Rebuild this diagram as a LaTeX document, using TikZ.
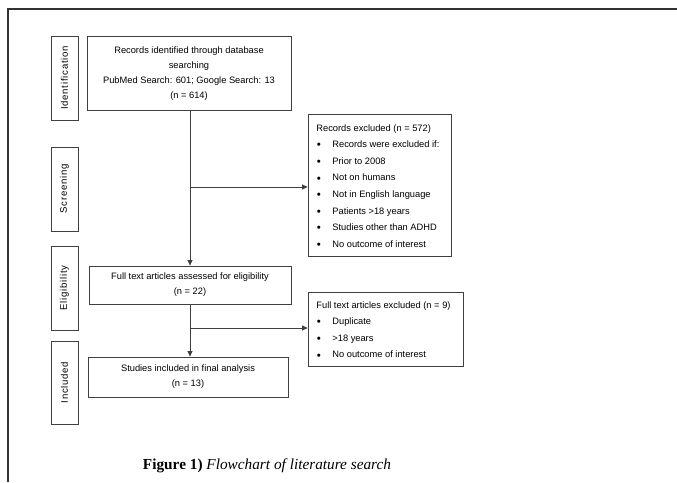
\documentclass[tikz,border=0pt]{standalone}
\usepackage{fontspec}
\setmainfont{Liberation Sans}
\newfontfamily\capfont{Liberation Serif}
\newfontfamily\sidefont[LetterSpace=8]{Liberation Sans}
\usetikzlibrary{arrows.meta}
\newcommand{\bitem}[1]{\makebox[16pt][l]{\hspace{0.5pt}\raisebox{-1.1pt}{\fontsize{11.5}{11.5}\selectfont\textbullet}}#1}
\begin{document}
\begin{tikzpicture}[x=1pt,y=-1pt,
  box/.style={draw=black!75,line width=0.8pt,inner sep=0pt,align=center,
    font=\fontsize{9.3}{15}\selectfont},
  side/.style={draw=black!75,line width=0.8pt,inner sep=0pt,minimum width=27pt,
    font=\sidefont\fontsize{9.6}{11}\selectfont},
  lbox/.style={draw=black!75,line width=0.8pt,inner sep=0pt,
    font=\fontsize{9.3}{16.6}\selectfont},
  flow/.style={draw=black!75,line width=0.8pt,-{Triangle[length=5.5pt,width=5pt]}},
  plain/.style={draw=black!75,line width=0.8pt}]
\useasboundingbox (0,0) rectangle (677,482);
\draw[black!80,line width=1.6pt] (8,482) -- (8,9) -- (677,9);

% side labels
\node[side,minimum height=84pt] (id) at (64.5,78) {\rotatebox{90}{Identification}};
\node[side,minimum height=84pt] (sc) at (64.5,189) {\rotatebox{90}{Screening}};
\node[side,minimum height=84pt] (el) at (64.5,288) {\rotatebox{90}{Eligibility}};
\node[side,minimum height=83pt] (in) at (64.5,382.5) {\rotatebox{90}{Included}};

% main boxes
\node[box,minimum width=204pt,minimum height=74pt] (b1) at (189,73.5)
  {Records identified through database\\searching\\PubMed Search: 601; Google Search: 13\\(n = 614)};
\node[box,minimum width=202pt,minimum height=38pt] (b2) at (190,285)
  {Full text articles assessed for eligibility\\(n = 22)};
\node[box,minimum width=200pt,minimum height=40pt] (b3) at (188,377)
  {Studies included in final analysis\\(n = 13)};

% exclusion boxes
\node[lbox,minimum width=143pt,minimum height=142pt] (e1) at (379.5,185) {};
\node[lbox,anchor=north west,align=left,draw=none] (e1t) at (316,124)
  {Records excluded (n = 572)\\
   \bitem{Records were excluded if:}\\
   \bitem{Prior to 2008}\\
   \bitem{Not on humans}\\
   \bitem{Not in English language}\\
   \bitem{Patients >18 years}\\
   \bitem{Studies other than ADHD}\\
   \bitem{No outcome of interest}};
\node[lbox,minimum width=155pt,minimum height=74pt] (e2) at (385.5,329) {};
\node[lbox,anchor=north west,align=left,draw=none] (e2t) at (316,301)
  {Full text articles excluded (n = 9)\\
   \bitem{Duplicate}\\
   \bitem{>18 years}\\
   \bitem{No outcome of interest}};

% connectors
\coordinate (xl) at (190,0);
\coordinate (j1) at (190,187);
\coordinate (j2) at (190,328);
\draw[flow] (b1.south -| xl) -- (b2.north -| xl);
\draw[flow] (j1) -- (j1 -| e1.west);
\draw[flow] (b2.south -| xl) -- (b3.north -| xl);
\draw[flow] (j2) -- (j2 -| e2.west);

% caption
\node[font=\capfont\fontsize{15.3}{18}\selectfont] (cap) at (267,466)
  {\textbf{Figure 1)} \textit{Flowchart of literature search}};
\end{tikzpicture}
\end{document}
